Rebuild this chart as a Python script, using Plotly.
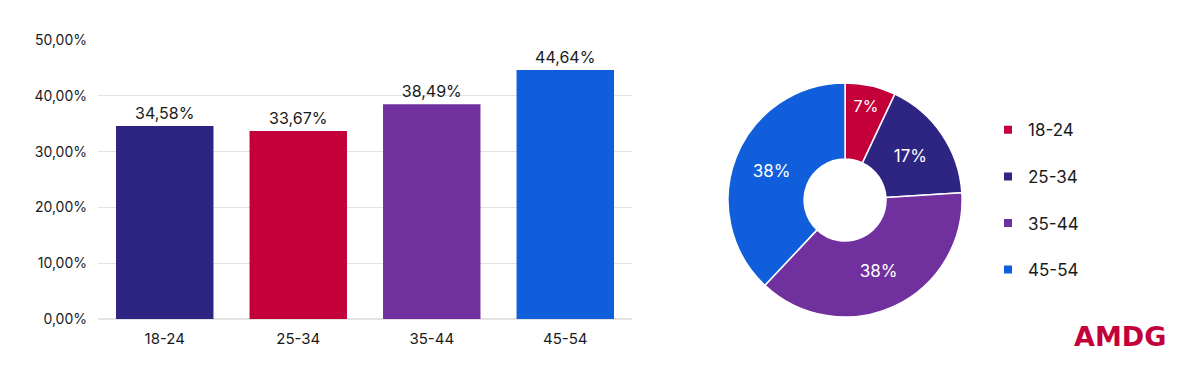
import plotly.graph_objects as go

categories = ["18-24", "25-34", "35-44", "45-54"]
bar_values = [34.58, 33.67, 38.49, 44.64]
pie_values = [7, 17, 38, 38]
colors_bar = ["#2E2482", "#C4003A", "#70309E", "#105EDC"]
colors_pie = ["#C4003A", "#2E2482", "#70309E", "#105EDC"]
y_ticks = [0, 10, 20, 30, 40, 50]
y_tick_labels = ["0,00%", "10,00%", "20,00%", "30,00%", "40,00%", "50,00%"]

FONT = "Inter, Roboto, sans-serif"

fig = go.Figure()
fig.add_trace(go.Bar(
    x=categories, y=bar_values,
    marker=dict(color=colors_bar, line=dict(width=0)),
    texttemplate="%{y:.2f}%", textposition="outside",
    textfont=dict(size=16, color="#1a1a1a", family=FONT),
    cliponaxis=False, showlegend=False,
))
fig.add_trace(go.Pie(
    labels=categories, values=pie_values,
    marker=dict(colors=colors_pie, line=dict(color="white", width=1.5)),
    hole=0.35, sort=False, direction="clockwise", rotation=0,
    texttemplate="%{percent:.0%}",
    textposition="inside", insidetextorientation="horizontal",
    textfont=dict(size=[16, 17, 17, 17], color="white", family=FONT),
    domain=dict(x=[0.553, 0.793], y=[0.007, 0.846]),
    showlegend=False,
))
for c, col in zip(categories, colors_pie):
    fig.add_trace(go.Scatter(
        x=[None], y=[None], mode="markers", name=c, legendgroup=c,
        marker=dict(symbol="square", size=8, color=col),
        showlegend=True,
    ))

fig.update_layout(
    width=1200, height=375,
    margin=dict(l=90, r=0, t=32, b=64),
    paper_bgcolor="white", plot_bgcolor="white",
    separators=",.",
    font=dict(family=FONT, color="#1a1a1a"),
    bargap=0.27,
    xaxis=dict(domain=[0, 0.4811], showgrid=False, showline=False, ticks="",
               tickfont=dict(size=15), ticklabelstandoff=9),
    yaxis=dict(range=[0, 50], tickvals=y_ticks, ticktext=y_tick_labels,
               showgrid=True, gridcolor="#e3e3e3", gridwidth=1, zeroline=True,
               zerolinecolor="#e3e3e3", tickfont=dict(size=14), ticklabelstandoff=10),
    legend=dict(x=0.8018, y=0.741, xanchor="left", yanchor="top",
                font=dict(size=17, family=FONT), tracegroupgap=21.5,
                itemwidth=30, bgcolor="rgba(0,0,0,0)"),
    annotations=[dict(text="<b>AMDG</b>", x=0.9207, y=-0.062, xref="paper", yref="paper",
                      xanchor="center", yanchor="middle",
                      showarrow=False, font=dict(size=27, color="#C4003A", family="DejaVu Sans"))],
)

fig.write_html("out.html")
